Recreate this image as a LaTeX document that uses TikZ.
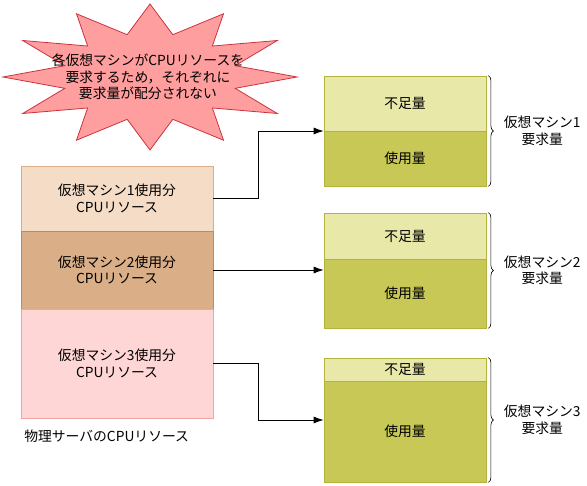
\documentclass[tikz,border=0pt]{standalone}
\usepackage{fontspec}
\setmainfont{Noto Sans CJK JP}
\usetikzlibrary{arrows.meta, positioning, fit, calc, decorations.pathreplacing}
\definecolor{Ink}{HTML}{000000}
\definecolor{VmOne}{HTML}{F4DCC6}
\definecolor{VmOneLine}{HTML}{D9AE82}
\definecolor{VmTwo}{HTML}{DAAF88}
\definecolor{VmTwoLine}{HTML}{BC8C5E}
\definecolor{VmThree}{HTML}{FED6D6}
\definecolor{VmThreeLine}{HTML}{F4A3A3}
\definecolor{Short}{HTML}{E8E8A8}
\definecolor{Used}{HTML}{C8C856}
\definecolor{OliveLine}{HTML}{B4B43C}
\definecolor{Burst}{HTML}{FF9E9E}
\definecolor{BurstLine}{HTML}{CC3340}

\begin{document}
\begin{tikzpicture}[
  x=1pt, y=-1pt,
  font=\fontsize{13.8}{16.5}\selectfont,
  vmbox/.style={rectangle, align=center, minimum width=192, inner sep=2pt},
  reqbox/.style={rectangle, align=center, minimum width=162, inner sep=2pt, draw=OliveLine},
  shortbox/.style={reqbox, fill=Short},
  usedbox/.style={reqbox, fill=Used},
  arrow/.style={-{Latex[length=10pt, width=7pt]}, draw=Ink, line width=0.8pt},
  brace/.style={decorate, decoration={brace, amplitude=5pt}, draw=Ink, line width=0.6pt},
  burstline/.style={fill=Burst, draw=BurstLine, line width=0.8pt}
]
\useasboundingbox (0,0) rectangle (587,486);

% message burst
\draw[burstline, shift={(150,77)}] (0:147 and 73)
  \foreach \a [evaluate=\a as \r using {mod(\a,30)==0 ? 1 : 0.6}] in {15,30,...,345} { -- (\a:{147*\r} and {73*\r}) } -- cycle;
\node[align=center] (msg) at (148,77) {各仮想マシンがCPUリソースを\\要求するため，それぞれに\\要求量が配分されない};

% physical server
\node[vmbox, fill=VmOne, draw=VmOneLine, minimum height=65] (vm1) at (117,198.5) {仮想マシン1使用分\\CPUリソース};
\node[vmbox, fill=VmTwo, draw=VmTwoLine, minimum height=78] (vm2) at (117,270) {仮想マシン2使用分\\CPUリソース};
\node[vmbox, fill=VmThree, draw=VmThreeLine, minimum height=109] (vm3) at (117,363.5) {仮想マシン3使用分\\CPUリソース};
\node[anchor=west] (phys) at ([yshift=-18pt]vm3.south west) {物理サーバのCPUリソース};

% requests
\node[shortbox, minimum height=55] (short1) at (405,103.5) {不足量};
\node[usedbox, minimum height=55] (used1) at (405,158.5) {使用量};
\node[shortbox, minimum height=46] (short2) at (405,236) {不足量};
\node[usedbox, minimum height=69] (used2) at (405,293.5) {使用量};
\node[shortbox, minimum height=23] (short3) at (405,369.5) {不足量};
\node[usedbox, minimum height=101] (used3) at (405,431.5) {使用量};

\foreach \i in {1,2,3} {
  \node[fit=(short\i)(used\i), inner sep=0] (req\i) {};
  \draw[brace] ([xshift=2pt]req\i.north east) -- ([xshift=2pt]req\i.south east);
  \node[anchor=west, align=center] (need\i) at ([xshift=14pt]req\i.east) {仮想マシン\i\\要求量};
}

\draw[arrow] (vm1.east) -- ++(45,0) |- (req1.west);
\draw[arrow] (vm2.east) -- (vm2.east -| req2.west);
\draw[arrow] (vm3.east) -- ++(45,0) |- (req3.west);
\end{tikzpicture}
\end{document}
